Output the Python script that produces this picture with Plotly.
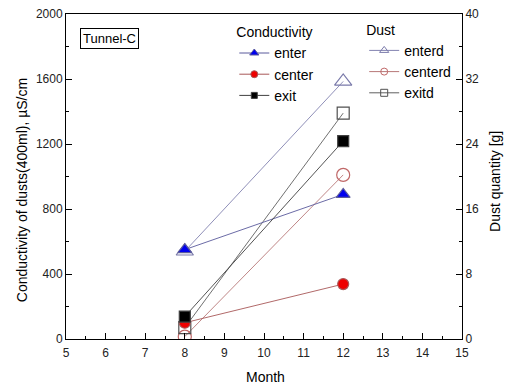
import plotly.graph_objects as go

# Sampling months
months = [8, 12]

# Conductivity of dusts (400 ml), uS/cm
cond_enter = [550, 890]
cond_center = [100, 338]
cond_exit = [138, 1218]

# Dust quantity, g
dust_enterd = [10.8, 31.7]
dust_centerd = [0.3, 20.2]
dust_exitd = [1.4, 27.8]

FONT = "Liberation Sans, Arial, sans-serif"

# name, y values, axis, legend, line colour, marker symbol, plot size, legend size, marker colour
series = [
    ("enterd", dust_enterd, "y", "legend2", "#8282b0", "triangle-up-open", 15, 8, "#7a7aaa"),
    ("centerd", dust_centerd, "y", "legend2", "#b87878", "circle-open", 13, 7, "#c06868"),
    ("exitd", dust_exitd, "y", "legend2", "#606060", "square-open", 12, 7, "#505050"),
    ("enter", cond_enter, "y2", "legend", "#5a5a9c", "triangle-up", 12, 8, "#0000ee"),
    ("center", cond_center, "y2", "legend", "#a85858", "circle", 11, 7, "#ee0000"),
    ("exit", cond_exit, "y2", "legend", "#404040", "square", 11, 6, "#000000"),
]

fig = go.Figure()

for name, vals, ax, leg, lc, sym, size, lsize, mc in series:
    # data trace
    fig.add_trace(go.Scatter(
        x=months, y=vals, name=name, yaxis=ax, showlegend=False,
        mode="lines+markers",
        line=dict(color=lc, width=0.9),
        marker=dict(symbol=sym, size=size, color=mc, line=dict(width=1.2)),
    ))
for name, vals, ax, leg, lc, sym, size, lsize, mc in series:
    # legend entry with compact symbol
    fig.add_trace(go.Scatter(
        x=[None], y=[None], name=name, yaxis=ax, legend=leg,
        mode="lines+markers",
        line=dict(color=lc, width=1),
        marker=dict(symbol=sym, size=lsize, color=mc, line=dict(width=1)),
    ))

axis_common = dict(
    showgrid=False, zeroline=False, showline=True, linecolor="black", linewidth=1,
    ticks="inside", ticklen=6, tickcolor="black", automargin=False,
    tickfont=dict(family=FONT, size=12, color="#222"),
)

fig.update_layout(
    width=511, height=387,
    margin=dict(l=66, r=49, t=14, b=48, autoexpand=False),
    paper_bgcolor="white", plot_bgcolor="white",
    font=dict(family=FONT, size=12, color="black"),
    xaxis=dict(
        range=[5, 15], dtick=1, mirror=True, ticklabelstandoff=3,
        minor=dict(dtick=0.5, ticks="inside", ticklen=3, tickcolor="black"),
        **axis_common,
    ),
    yaxis=dict(
        range=[0, 40], dtick=8, side="right",
        minor=dict(dtick=4, ticks="inside", ticklen=3, tickcolor="black"),
        **axis_common,
    ),
    yaxis2=dict(
        range=[0, 2000], dtick=400, side="left", overlaying="y",
        minor=dict(dtick=200, ticks="inside", ticklen=3, tickcolor="black"),
        **axis_common,
    ),
    legend=dict(
        title=dict(text="Conductivity", font=dict(family=FONT, size=14)),
        x=0.425, y=0.984, xanchor="left", yanchor="top",
        bgcolor="rgba(0,0,0,0)", itemwidth=30, tracegroupgap=0,
        font=dict(family=FONT, size=14),
    ),
    legend2=dict(
        title=dict(text="Dust", font=dict(family=FONT, size=14)),
        x=0.753, y=0.992, xanchor="left", yanchor="top",
        bgcolor="rgba(0,0,0,0)", itemwidth=30, tracegroupgap=0,
        font=dict(family=FONT, size=14),
    ),
    annotations=[
        dict(
            text="Tunnel-C", xref="paper", yref="paper", x=0.036, y=0.958,
            xanchor="left", yanchor="top", showarrow=False,
            font=dict(family=FONT, size=13, color="black"),
            bordercolor="black", borderwidth=1, borderpad=2,
        ),
        dict(
            text="Conductivity of dusts(400ml), \u00b5S/cm", textangle=-90,
            xref="paper", yref="paper", x=-0.111, y=0.458,
            xanchor="center", yanchor="middle", showarrow=False,
            font=dict(family=FONT, size=14, color="black"),
        ),
        dict(
            text="Dust quantity [g]", textangle=-90,
            xref="paper", yref="paper", x=1.083, y=0.486,
            xanchor="center", yanchor="middle", showarrow=False,
            font=dict(family=FONT, size=14, color="black"),
        ),
        dict(
            text="Month", xref="paper", yref="paper", x=0.505, y=-0.117,
            xanchor="center", yanchor="middle", showarrow=False,
            font=dict(family=FONT, size=14, color="black"),
        ),
    ],
)

fig.write_html("out.html")
